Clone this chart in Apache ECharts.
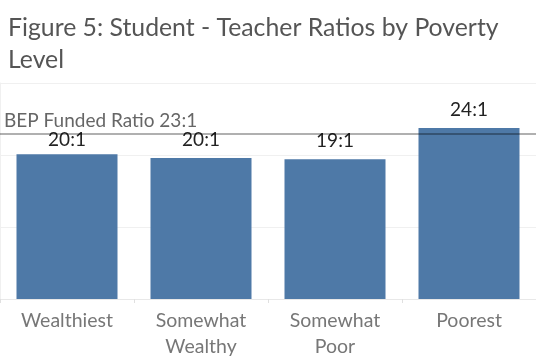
<!DOCTYPE html>
<html><head><meta charset="utf-8">
<script src="https://cdn.jsdelivr.net/npm/echarts@6/dist/echarts.min.js"></script>
<style>html,body{margin:0;padding:0;background:#fff}#c{width:536px;height:364px}</style>
</head><body><div id="c"></div>
<script>
const categories = ['Wealthiest', 'Somewhat\nWealthy', 'Somewhat\nPoor', 'Poorest'];
const ratios = [20.1, 19.6, 19.4, 23.75];
const ratioLabels = ['20:1', '20:1', '19:1', '24:1'];
const fundedRatio = 23;
const fundedLabel = 'BEP Funded Ratio 23:1';
const yTicks = [0, 10, 20, 30];

const chart = echarts.init(document.getElementById('c'));
chart.setOption({
  animation: false,
  title: {
    text: 'Figure 5: Student - Teacher Ratios by Poverty\nLevel',
    left: 3, top: 7,
    textStyle: { fontFamily: 'Lato', fontSize: 24.8, fontWeight: 'normal', color: '#555', lineHeight: 32 }
  },
  grid: { left: 0, right: 0, top: 83, bottom: 65 },
  xAxis: {
    type: 'category', data: categories,
    axisLine: { show: true, lineStyle: { color: '#e8e8e8' } },
    axisTick: { show: true, length: 4, lineStyle: { color: '#e0e0e0' } },
    axisLabel: { fontFamily: 'Lato', fontSize: 19.5, color: '#777', lineHeight: 26, margin: 9 }
  },
  yAxis: {
    type: 'value', min: yTicks[0], max: yTicks[yTicks.length - 1], interval: 10,
    axisLabel: { show: false },
    axisLine: { show: true, lineStyle: { color: '#f0f0f0' } },
    axisTick: { show: false },
    splitLine: { lineStyle: { color: '#f0f0f0' } }
  },
  series: [{
    type: 'bar', barWidth: 101,
    data: ratios.map((v, i) => ({ value: v, label: { formatter: ratioLabels[i], distance: i === 0 ? 5 : 9 } })),
    itemStyle: { color: '#4e79a7' },
    label: { show: true, position: 'top', fontFamily: 'Lato', fontSize: 19, color: '#222' },
    markLine: {
      silent: true, symbol: 'none', z: 10,
      lineStyle: { color: 'rgba(0,0,0,0.31)', width: 2, type: 'solid' },
      label: { show: true, position: 'insideStartTop', formatter: fundedLabel, fontFamily: 'Lato', fontSize: 19, color: '#666', distance: [4, 3] },
      data: [{ yAxis: fundedRatio }]
    }
  }]
});
</script></body></html>
